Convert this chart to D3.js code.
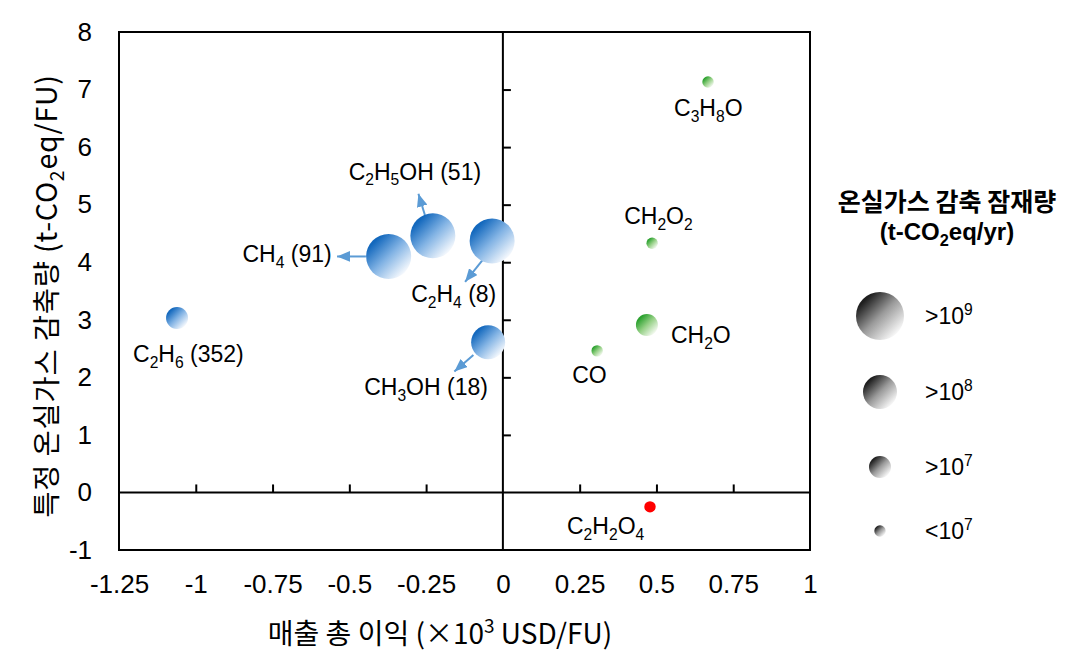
<!DOCTYPE html>
<html><head><meta charset="utf-8">
<script src="https://cdn.jsdelivr.net/npm/d3@7"></script>
<style>
body{margin:0;background:#fff}
text{font-family:Arial,"Liberation Sans",sans-serif;fill:#000}
.kr{font-family:"Noto Sans CJK KR",Arial,sans-serif}
</style>
</head><body><svg id="c" width="1084" height="668"></svg>
<script>
// ---------- data ----------
const names = ["C_2H_6 (352)","CH_4 (91)","C_2H_5OH (51)","C_2H_4 (8)","CH_3OH (18)","C_3H_8O","CH_2O_2","CH_2O","CO","C_2H_2O_4"];
const grossProfit = [-1.061,-0.372,-0.228,-0.035,-0.048,0.668,0.486,0.469,0.307,0.479];
const ghgReduction = [3.03,4.10,4.46,4.37,2.61,7.13,4.33,2.91,2.46,-0.25];
const potentialClass = [">10^7",">10^9",">10^9",">10^9",">10^8","<10^7","<10^7",">10^7","<10^7","<10^7"];
const colorGroup = ["blue","blue","blue","blue","blue","green","green","green","green","red"];

// arrows (data units): start -> tip
const arrowX1 = [-0.446,-0.254,-0.067,-0.096];
const arrowY1 = [4.10,4.82,4.03,2.39];
const arrowX2 = [-0.540,-0.275,-0.123,-0.158];
const arrowY2 = [4.10,5.19,3.66,2.10];

const legendClasses = [">10^9",">10^8",">10^7","<10^7"];
const xTickValues = [-1.25,-1,-0.75,-0.5,-0.25,0,0.25,0.5,0.75,1];
const yTickValues = [-1,0,1,2,3,4,5,6,7,8];
const xInnerTicks = [-1,-0.75,-0.5,-0.25,0.25,0.5,0.75];
const yInnerTicks = [1,2,3,4,5,6,7];

// ---------- layout ----------
const labelLayout = {
 "C_2H_6 (352)":[-44,44,"start"], "CH_4 (91)":[-57,6,"end"], "C_2H_5OH (51)":[-18,-56,"middle"],
 "C_2H_4 (8)":[-81,61,"start"], "CH_3OH (18)":[-124,53,"start"], "C_3H_8O":[-34,34,"start"],
 "CH_2O_2":[-28,-19,"start"], "CH_2O":[24,18,"start"], "CO":[-25,32,"start"], "C_2H_2O_4":[-83,27,"start"]
};
const svg = d3.select("#c");
const x = d3.scaleLinear().domain([-1.25,1]).range([119,810]);
const y = d3.scaleLinear().domain([-1,8]).range([550,32]);
const r = d3.scaleOrdinal().domain(["<10^7",">10^7",">10^8",">10^9"]).range([5.7,11,17,22.5]);

// rich text helper: _ = subscript digit, ^ = superscript
function rich(sel, str, size){
  const parts=[]; let i=0;
  while(i<str.length){
    if(str[i]==="_"||str[i]==="^"){ parts.push({t:str[i+1],k:str[i]}); i+=2; }
    else { let j=i; while(j<str.length&&str[j]!=="_"&&str[j]!=="^") j++; parts.push({t:str.slice(i,j),k:""}); i=j; }
  }
  let shift=0;
  parts.forEach(p=>{
    const ts = sel.append("tspan").text(p.t);
    let target = p.k==="_"? size*0.25 : p.k==="^"? -size*0.38 : 0;
    ts.attr("dy", target-shift); shift=target;
    if(p.k) ts.attr("font-size", size*0.68);
  });
}

// gradients
const defs = svg.append("defs");
const grads = {blue:["#1368bd","#82b3e4","#f4f8fd"], green:["#28a02c","#95d086","#f3f9ef"], gray:["#1f1f1f","#9a9a9a","#f7f7f7"]};
Object.entries(grads).forEach(([k,c])=>{
  const g=defs.append("linearGradient").attr("id","g-"+k).attr("x1",0).attr("y1",0).attr("x2",1).attr("y2",1);
  g.append("stop").attr("offset","0.18").attr("stop-color",c[0]);
  g.append("stop").attr("offset","0.5").attr("stop-color",c[1]);
  g.append("stop").attr("offset","0.85").attr("stop-color",c[2]);
});
defs.append("marker").attr("id","arr").attr("markerUnits","userSpaceOnUse")
  .attr("viewBox","0 0 12 10").attr("refX",12).attr("refY",5).attr("markerWidth",13).attr("markerHeight",11).attr("orient","auto")
  .append("path").attr("d","M0,0L12,5L0,10Z").attr("fill","#5b9bd5");

// frame
svg.append("rect").attr("x",x(-1.25)).attr("y",y(8)).attr("width",x(1)-x(-1.25)).attr("height",y(-1)-y(8))
  .attr("fill","none").attr("stroke","#000").attr("stroke-width",2);
svg.append("line").attr("x1",x(-1.25)).attr("x2",x(1)).attr("y1",y(0)).attr("y2",y(0)).attr("stroke","#000").attr("stroke-width",2);
svg.append("line").attr("x1",x(0)).attr("x2",x(0)).attr("y1",y(8)).attr("y2",y(-1)).attr("stroke","#000").attr("stroke-width",2);

// inner ticks
const gx = svg.append("g").attr("transform",`translate(0,${y(0)})`)
  .call(d3.axisTop(x).tickValues(xInnerTicks).tickSize(8).tickFormat(""));
gx.select(".domain").remove(); gx.selectAll("line").attr("stroke-width",2);
const gy = svg.append("g").attr("transform",`translate(${x(0)},0)`)
  .call(d3.axisRight(y).tickValues(yInnerTicks).tickSize(8).tickFormat(""));
gy.select(".domain").remove(); gy.selectAll("line").attr("stroke-width",2);

// tick labels
const lx = svg.append("g").attr("transform",`translate(0,${y(-1)+22})`)
  .call(d3.axisBottom(x).tickValues(xTickValues).tickSize(0).tickFormat(d=>String(d)));
lx.select(".domain").remove();
lx.selectAll("text").attr("font-size",26).attr("font-family","Arial,'Liberation Sans',sans-serif").attr("fill","#000");
const ly = svg.append("g").attr("transform",`translate(${x(-1.25)-24},0)`)
  .call(d3.axisLeft(y).tickValues(yTickValues).tickSize(0).tickFormat(d=>String(d)));
ly.select(".domain").remove();
ly.selectAll("text").attr("font-size",26).attr("font-family","Arial,'Liberation Sans',sans-serif").attr("fill","#000");

// axis titles
const xt = svg.append("text").attr("class","kr").attr("x",440).attr("y",644).attr("text-anchor","middle").attr("font-size",28);
rich(xt,"매출 총 이익 (×10^3 USD/FU)",28);
const yt = svg.append("text").attr("class","kr").attr("transform","translate(57,296) rotate(-90)").attr("text-anchor","middle")
  .attr("font-size",28.5).attr("letter-spacing",0.8);
rich(yt,"특정 온실가스 감축량 (t-CO_2eq/FU)",28.5);

// arrows
svg.selectAll(".arrow").data(arrowX1.map((d,i)=>i)).join("line").attr("class","arrow")
  .attr("x1",i=>x(arrowX1[i])).attr("y1",i=>y(arrowY1[i])).attr("x2",i=>x(arrowX2[i])).attr("y2",i=>y(arrowY2[i]))
  .attr("stroke","#5b9bd5").attr("stroke-width",2).attr("marker-end","url(#arr)");

// bubbles
const pts = names.map((n,i)=>({n, gx:grossProfit[i], gy:ghgReduction[i], c:potentialClass[i], g:colorGroup[i]}));
svg.selectAll(".b").data(pts).join("circle").attr("class","b")
  .attr("cx",d=>x(d.gx)).attr("cy",d=>y(d.gy)).attr("r",d=>r(d.c))
  .attr("fill",d=>d.g==="red"?"#ff0000":`url(#g-${d.g})`);

// labels
pts.forEach(d=>{
  const L = labelLayout[d.n];
  const t = svg.append("text").attr("x",x(d.gx)+L[0]).attr("y",y(d.gy)+L[1]).attr("text-anchor",L[2]).attr("font-size",23);
  rich(t,d.n,23);
});

// legend
svg.append("text").attr("class","kr").attr("x",947).attr("y",211).attr("text-anchor","middle").attr("font-size",25).attr("font-weight","bold").text("온실가스 감축 잠재량");
const lt2 = svg.append("text").attr("x",947).attr("y",240).attr("text-anchor","middle").attr("font-size",24).attr("font-weight","bold");
rich(lt2,"(t-CO_2eq/yr)",24);
const legendYs = {">10^9":316, ">10^8":392, ">10^7":467, "<10^7":531};
legendClasses.forEach(c=>{
  svg.append("circle").attr("cx",880).attr("cy",legendYs[c]).attr("r", c===">10^9"?24:r(c)).attr("fill","url(#g-gray)");
  const t = svg.append("text").attr("x",925).attr("y",legendYs[c]+8).attr("font-size",23);
  rich(t,c,23);
});
</script></body></html>
